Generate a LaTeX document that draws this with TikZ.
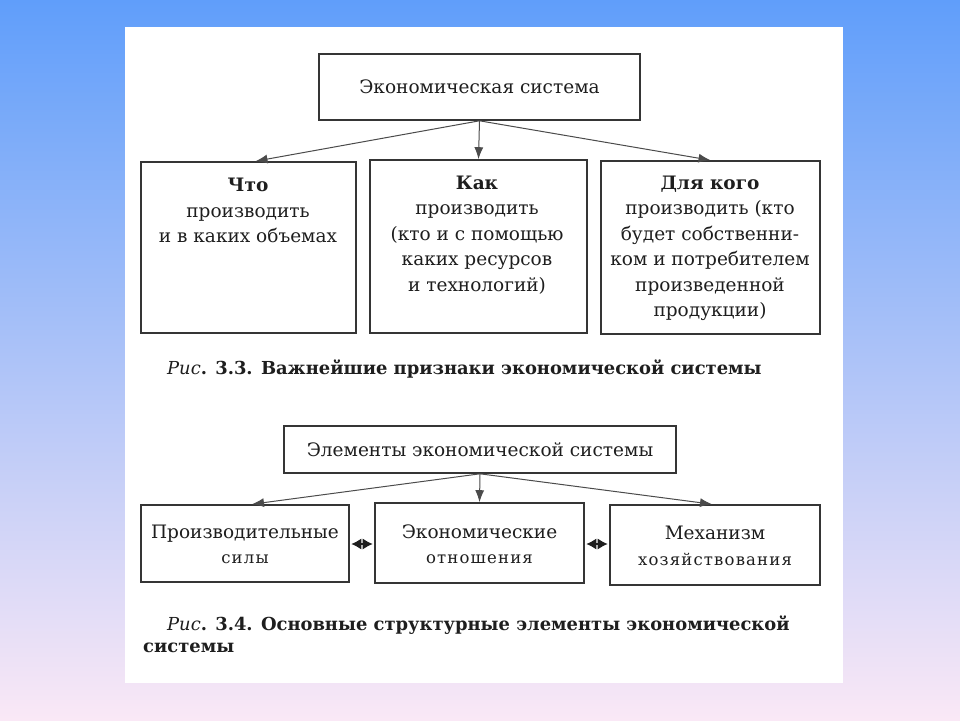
\documentclass[tikz,border=0pt]{standalone}
\usepackage{fontspec}
\setmainfont{DejaVu Serif}
\newfontfamily\spfont[LetterSpace=7]{DejaVu Serif}
\usetikzlibrary{arrows.meta,calc}
\definecolor{bgtop}{RGB}{96,158,250}
\definecolor{bgmid}{RGB}{178,196,250}
\definecolor{bgbot}{RGB}{250,232,246}
\definecolor{ink}{RGB}{30,30,30}
\definecolor{lnk}{RGB}{75,75,75}
\newcommand{\spw}[1]{{\fontsize{16.5}{25}\spfont #1}}
\begin{document}
\begin{tikzpicture}[x=1pt,y=-1pt,
  box/.style={draw=ink!90,line width=1.6pt,fill=white,inner sep=0pt},
  txt/.style={text=ink,align=center,font=\fontsize{18.5}{25.5}\selectfont,inner sep=0pt},
  captxt/.style={text=ink,align=left,font=\fontsize{17.9}{23}\selectfont\bfseries,inner sep=0pt},
  arr/.style={draw=lnk,line width=1pt,-{Latex[length=12pt,width=9pt]}},
  darr/.style={draw=ink,line width=1.2pt,shorten <=1.5pt,shorten >=1.5pt,
    {Latex[length=10pt,width=11pt]}-{Latex[length=10pt,width=11pt]}}
]
\useasboundingbox (0,0) rectangle (960,720);
\shade[top color=bgtop,middle color=bgmid,bottom color=bgbot] (0,0) rectangle (960,720);
\fill[white] (125,27) rectangle (843,683);

% Figure 3.3
\node[box,minimum width=321pt,minimum height=66pt] (es) at (479.5,87) {};
\node[txt] (est) at (es.center) {Экономическая система};

\node[box,minimum width=215pt,minimum height=171pt] (b1) at (248.5,247.5) {};
\node[box,minimum width=217pt,minimum height=173pt] (b2) at (478.5,246.5) {};
\node[box,minimum width=219pt,minimum height=173pt] (b3) at (710.5,247.5) {};

\node[txt,anchor=north] (t1) at (248,178) {\textbf{Что}\\производить\\и в каких объемах};
\node[txt,anchor=north] (t2) at (477,175.5) {\textbf{Как}\\производить\\(кто и с помощью\\каких ресурсов\\и технологий)};
\node[txt,anchor=north] (t3) at (710,175.5) {\textbf{Для кого}\\производить (кто\\будет собственни-\\ком и потребителем\\произведенной\\продукции)};

\draw[arr] (es.south) -- ($(b1.north)+(7,0)$);
\draw[arr] (es.south) -- (b2.north);
\draw[arr] (es.south) -- ($(b3.north)+(0,0)$);

\node[captxt,anchor=west] (c1) at (167,369) {\textit{\mdseries Рис}. 3.3. Важнейшие признаки экономической системы};

% Figure 3.4
\node[box,minimum width=392pt,minimum height=47pt] (el) at (480,449.5) {};
\node[txt] (elt) at (el.center) {Элементы экономической системы};

\node[box,minimum width=208pt,minimum height=77pt] (p1) at (245,543.5) {};
\node[box,minimum width=209pt,minimum height=80pt] (p2) at (479.5,543) {};
\node[box,minimum width=210pt,minimum height=80pt] (p3) at (715,545) {};

\node[txt] (pt1) at ($(p1.center)+(0,1)$) {Производительные\\\spw{силы}};
\node[txt] (pt2) at ($(p2.center)+(0,1)$) {Экономические\\\spw{отношения}};
\node[txt] (pt3) at ($(p3.center)+(0,1)$) {Механизм\\\spw{хозяйствования}};

\draw[arr] (el.south) -- ($(p1.north)+(7,0)$);
\draw[arr] (el.south) -- (p2.north);
\draw[arr] (el.south) -- ($(p3.north)+(-3,0)$);

\draw[darr] (p1.east |- 0,544) -- (p2.west |- 0,544);
\draw[darr] (p2.east |- 0,544) -- (p3.west |- 0,544);

\node[captxt,anchor=west] (c2a) at (167,625) {\textit{\mdseries Рис}. 3.4. Основные структурные элементы экономической};
\node[captxt,anchor=west] (c2b) at (143,648) {системы};
\end{tikzpicture}
\end{document}
